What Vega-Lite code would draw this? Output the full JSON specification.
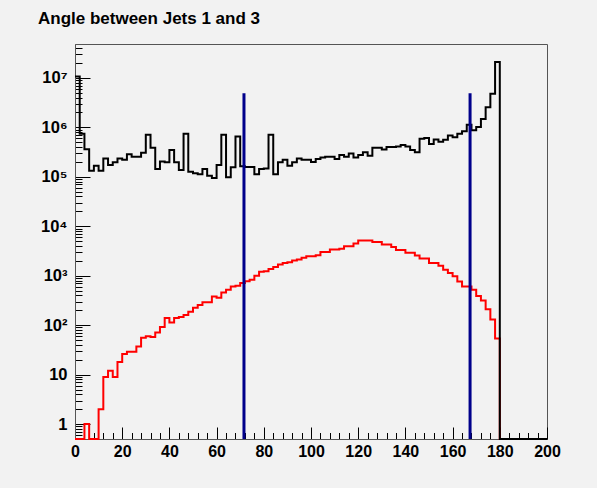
{
  "$schema": "https://vega.github.io/schema/vega-lite/v6.json",
  "width": 472,
  "height": 395,
  "autosize": {"type": "none"},
  "padding": {"left": 75, "top": 44, "right": 50, "bottom": 49},
  "background": "#f2f2f2",
  "title": {
    "text": "Angle between Jets 1 and 3",
    "anchor": "start",
    "frame": "group",
    "dx": -37,
    "offset": 3,
    "baseline": "alphabetic",
    "font": "Liberation Sans",
    "fontSize": 17,
    "fontWeight": "bold",
    "color": "#000000"
  },
  "config": {
    "view": {"stroke": "#555555", "strokeWidth": 1, "fill": null},
    "axis": {
      "labelFont": "Liberation Sans",
      "labelFontWeight": "bold",
      "labelColor": "#000000",
      "tickColor": "#000000",
      "domainColor": "#555555",
      "grid": false,
      "title": null
    }
  },
  "datasets": {
    "hist": [
      {"x": 0, "black": 10700000, "red": 0},
      {"x": 2, "black": 740000, "red": 0},
      {"x": 4, "black": 360000, "red": 1},
      {"x": 6, "black": 133000, "red": 0},
      {"x": 8, "black": 168000, "red": 0},
      {"x": 10, "black": 133000, "red": 2},
      {"x": 12, "black": 235000, "red": 9},
      {"x": 14, "black": 174000, "red": 12},
      {"x": 16, "black": 197000, "red": 9},
      {"x": 18, "black": 235000, "red": 18},
      {"x": 20, "black": 220000, "red": 26},
      {"x": 22, "black": 285000, "red": 29},
      {"x": 24, "black": 255000, "red": 29},
      {"x": 26, "black": 255000, "red": 37},
      {"x": 28, "black": 305000, "red": 56},
      {"x": 30, "black": 710000, "red": 60},
      {"x": 32, "black": 385000, "red": 58},
      {"x": 34, "black": 143000, "red": 71},
      {"x": 36, "black": 205000, "red": 92},
      {"x": 38, "black": 197000, "red": 140},
      {"x": 40, "black": 350000, "red": 113},
      {"x": 42, "black": 197000, "red": 140},
      {"x": 44, "black": 138000, "red": 147},
      {"x": 46, "black": 740000, "red": 160},
      {"x": 48, "black": 126000, "red": 187},
      {"x": 50, "black": 118000, "red": 225},
      {"x": 52, "black": 113000, "red": 256},
      {"x": 54, "black": 143000, "red": 290},
      {"x": 56, "black": 105000, "red": 290},
      {"x": 58, "black": 95000, "red": 378},
      {"x": 60, "black": 174000, "red": 360},
      {"x": 62, "black": 710000, "red": 456},
      {"x": 64, "black": 98000, "red": 520},
      {"x": 66, "black": 156000, "red": 605},
      {"x": 68, "black": 650000, "red": 630},
      {"x": 70, "black": 163000, "red": 710},
      {"x": 72, "black": 158000, "red": 770},
      {"x": 74, "black": 158000, "red": 830},
      {"x": 76, "black": 113000, "red": 1000},
      {"x": 78, "black": 143000, "red": 1200},
      {"x": 80, "black": 148000, "red": 1230},
      {"x": 82, "black": 710000, "red": 1370},
      {"x": 84, "black": 113000, "red": 1500},
      {"x": 86, "black": 197000, "red": 1680},
      {"x": 88, "black": 220000, "red": 1800},
      {"x": 90, "black": 168000, "red": 1870},
      {"x": 92, "black": 197000, "red": 2040},
      {"x": 94, "black": 235000, "red": 2140},
      {"x": 96, "black": 220000, "red": 2300},
      {"x": 98, "black": 220000, "red": 2470},
      {"x": 100, "black": 200000, "red": 2470},
      {"x": 102, "black": 230000, "red": 2600},
      {"x": 104, "black": 245000, "red": 3030},
      {"x": 106, "black": 255000, "red": 3030},
      {"x": 108, "black": 255000, "red": 3400},
      {"x": 110, "black": 230000, "red": 3400},
      {"x": 112, "black": 275000, "red": 3500},
      {"x": 114, "black": 255000, "red": 3960},
      {"x": 116, "black": 295000, "red": 3960},
      {"x": 118, "black": 245000, "red": 4480},
      {"x": 120, "black": 275000, "red": 5150},
      {"x": 122, "black": 315000, "red": 5150},
      {"x": 124, "black": 265000, "red": 5150},
      {"x": 126, "black": 385000, "red": 4780},
      {"x": 128, "black": 385000, "red": 4780},
      {"x": 130, "black": 355000, "red": 4300},
      {"x": 132, "black": 400000, "red": 4300},
      {"x": 134, "black": 400000, "red": 3800},
      {"x": 136, "black": 410000, "red": 3300},
      {"x": 138, "black": 440000, "red": 3300},
      {"x": 140, "black": 410000, "red": 2900},
      {"x": 142, "black": 350000, "red": 2900},
      {"x": 144, "black": 315000, "red": 2570},
      {"x": 146, "black": 590000, "red": 2220},
      {"x": 148, "black": 610000, "red": 2220},
      {"x": 150, "black": 460000, "red": 1800},
      {"x": 152, "black": 570000, "red": 1800},
      {"x": 154, "black": 510000, "red": 1590},
      {"x": 156, "black": 560000, "red": 1320},
      {"x": 158, "black": 680000, "red": 1140},
      {"x": 160, "black": 630000, "red": 975},
      {"x": 162, "black": 740000, "red": 765},
      {"x": 164, "black": 830000, "red": 605},
      {"x": 166, "black": 1130000, "red": 605},
      {"x": 168, "black": 870000, "red": 520},
      {"x": 170, "black": 1020000, "red": 390},
      {"x": 172, "black": 1480000, "red": 315},
      {"x": 174, "black": 2550000, "red": 210},
      {"x": 176, "black": 4800000, "red": 130},
      {"x": 178, "black": 21000000, "red": 54},
      {"x": 180, "black": 0, "red": 0},
      {"x": 182, "black": 0, "red": 0},
      {"x": 184, "black": 0, "red": 0},
      {"x": 186, "black": 0, "red": 0},
      {"x": 188, "black": 0, "red": 0},
      {"x": 190, "black": 0, "red": 0},
      {"x": 192, "black": 0, "red": 0},
      {"x": 194, "black": 0, "red": 0},
      {"x": 196, "black": 0, "red": 0},
      {"x": 198, "black": 0, "red": 0},
      {"x": 200, "black": 0, "red": 0}
    ],
    "cuts": [
      {"x": 71.6, "top": 4900000},
      {"x": 167.4, "top": 4900000}
    ]
  },
  "layer": [
    {
      "data": {"name": "hist"},
      "mark": {"type": "line", "interpolate": "step-after", "color": "#ff0000", "strokeWidth": 2, "strokeJoin": "miter", "strokeCap": "butt"},
      "encoding": {
        "x": {
          "field": "x", "type": "quantitative",
          "scale": {"domain": [0, 200], "nice": false, "zero": false},
          "axis": {
            "orient": "bottom",
            "values": [0, 4, 8, 12, 16, 20, 24, 28, 32, 36, 40, 44, 48, 52, 56, 60, 64, 68, 72, 76, 80, 84, 88, 92, 96, 100, 104, 108, 112, 116, 120, 124, 128, 132, 136, 140, 144, 148, 152, 156, 160, 164, 168, 172, 176, 180, 184, 188, 192, 196, 200],
            "tickSize": -6.5,
            "labels": false,
            "domain": false
          }
        },
        "y": {
          "field": "red", "type": "quantitative",
          "scale": {"type": "log", "domain": [0.5, 48400000], "nice": false, "clamp": true},
          "axis": {
            "orient": "left",
            "values": [0.5, 0.6, 0.7, 0.8, 0.9, 2, 3, 4, 5, 6, 7, 8, 9, 20, 30, 40, 50, 60, 70, 80, 90, 200, 300, 400, 500, 600, 700, 800, 900, 2000, 3000, 4000, 5000, 6000, 7000, 8000, 9000, 20000, 30000, 40000, 50000, 60000, 70000, 80000, 90000, 200000, 300000, 400000, 500000, 600000, 700000, 800000, 900000, 2000000, 3000000, 4000000, 5000000, 6000000, 7000000, 8000000, 9000000, 20000000, 30000000, 40000000],
            "tickSize": -7,
            "labels": false,
            "domain": false
          }
        }
      }
    },
    {
      "data": {"name": "hist"},
      "mark": {"type": "line", "interpolate": "step-after", "color": "#000000", "strokeWidth": 2, "strokeJoin": "miter", "strokeCap": "butt"},
      "encoding": {
        "x": {
          "field": "x", "type": "quantitative",
          "axis": {
            "orient": "bottom",
            "values": [0, 20, 40, 60, 80, 100, 120, 140, 160, 180, 200],
            "tickSize": -12,
            "labelPadding": 16,
            "labelFontSize": 16,
            "labelFlush": false,
            "labelOverlap": false
          }
        },
        "y": {
          "field": "black", "type": "quantitative",
          "axis": {
            "orient": "left",
            "values": [1, 10, 100, 1000, 10000, 100000, 1000000, 10000000],
            "labelExpr": "datum.value < 5 ? '1' : datum.value < 50 ? '10' : '10' + ['', '', '²', '³', '⁴', '⁵', '⁶', '⁷'][round(log(datum.value) / LN10)]",
            "tickSize": -15,
            "labelPadding": 23,
            "labelFontSize": 16.5,
            "labelFlush": false,
            "labelOverlap": false
          }
        }
      }
    },
    {
      "data": {"name": "cuts"},
      "mark": {"type": "rule", "color": "#00008b", "strokeWidth": 3},
      "encoding": {
        "x": {"field": "x", "type": "quantitative", "axis": null},
        "y": {"field": "top", "type": "quantitative", "axis": null},
        "y2": {"datum": 0.5}
      }
    }
  ],
  "resolve": {"axis": {"x": "independent", "y": "independent"}}
}
